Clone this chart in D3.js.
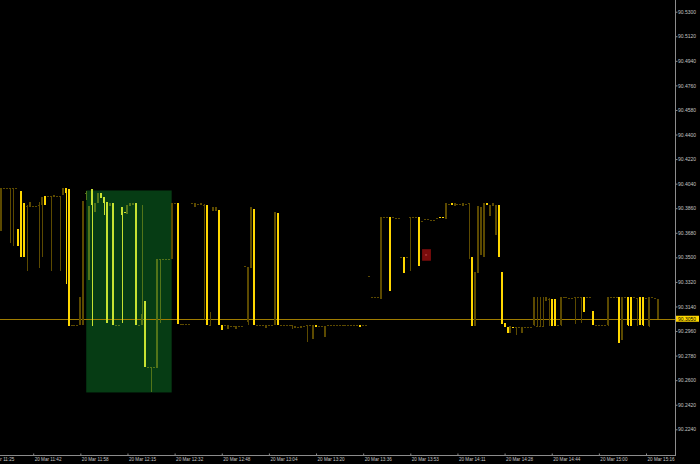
<!DOCTYPE html>
<html>
<head>
<meta charset="utf-8">
<script src="https://cdn.jsdelivr.net/npm/d3@7"></script>
<style>
  html, body { margin: 0; padding: 0; background: #000; }
  svg { display: block; }
</style>
</head>
<body>
<div id="chart"></div>
<script>
// M1 bars, one row of ten per line
const barOpen = [
  90.4008, 90.4008, 90.4008, 90.4008, 90.4008, 90.4008, 90.3583, 90.3503, 90.3503, 90.3876,
  90.3906, 90.3876, 90.3876, 90.3884, 90.3942, 90.3884, 90.3953, 90.3953, 90.3957, 90.3950,
  90.3953, 90.4008, 90.3972, 90.2999, 90.3004, 90.3004, 90.3004, 90.3209, 90.3913, 90.3972,
  90.3876, 90.3884, 90.3898, 90.3972, 90.3935, 90.3898, 90.3021, 90.3898, 90.3004, 90.3004,
  90.3004, 90.3810, 90.3828, 90.3884, 90.3898, 90.3898, 90.3004, 90.3004, 90.3085, 90.2699,
  90.2700, 90.2700, 90.2700, 90.3488, 90.3486, 90.3486, 90.3486, 90.3486, 90.3898, 90.3898,
  90.3012, 90.3012, 90.3012, 90.3012, 90.3012, 90.3898, 90.3898, 90.3891, 90.3898, 90.3884,
  90.3004, 90.3004, 90.3869, 90.3869, 90.3004, 90.2968, 90.3004, 90.3004, 90.2997, 90.2997,
  90.2997, 90.2997, 90.2997, 90.3437, 90.3429, 90.3869, 90.3004, 90.3004, 90.3004, 90.3004,
  90.3004, 90.3004, 90.3004, 90.3834, 90.3004, 90.3004, 90.3004, 90.3004, 90.3004, 90.3004,
  90.2997, 90.2993, 90.2997, 90.2997, 90.3004, 90.3004, 90.3004, 90.2990, 90.2997, 90.2997,
  90.2997, 90.3004, 90.3004, 90.3004, 90.3004, 90.3004, 90.3004, 90.3004, 90.3004, 90.3004,
  90.3004, 90.3004, 90.2990, 90.3004, 90.3004, 90.3363, 90.3207, 90.3207, 90.3207, 90.3798,
  90.3798, 90.3798, 90.3253, 90.3792, 90.3788, 90.3788, 90.3505, 90.3391, 90.3503, 90.3796,
  90.3796, 90.3796, 90.3439, 90.3766, 90.3781, 90.3781, 90.3774, 90.3774, 90.3788, 90.3788,
  90.3788, 90.3896, 90.3891, 90.3884, 90.3898, 90.3891, 90.3891, 90.3898, 90.3891, 90.3898,
  90.2999, 90.3395, 90.3879, 90.3871, 90.3898, 90.3884, 90.3884, 90.3898, 90.3884, 90.3500,
  90.3012, 90.2992, 90.2951, 90.2999, 90.2986, 90.2990, 90.2993, 90.2992, 90.2993, 90.2993,
  90.2993, 90.3207, 90.2997, 90.2997, 90.2997, 90.3209, 90.3195, 90.2999, 90.2999, 90.3001,
  90.3207, 90.3206, 90.3206, 90.3202, 90.3202, 90.3206, 90.3206, 90.3206, 90.3100, 90.3206,
  90.3206, 90.3004, 90.3004, 90.3004, 90.3004, 90.3001, 90.3207, 90.3207, 90.3207, 90.3207,
  90.2870, 90.3207, 90.3206, 90.2999, 90.2999, 90.3206, 90.3202, 90.3004, 90.2999, 90.3202,
  90.3207, 90.3206, 90.3202, 90.3195
]
const barHigh = [
  90.4008, 90.4008, 90.4008, 90.4008, 90.4008, 90.4008, 90.3708, 90.3986, 90.3898, 90.3884,
  90.3906, 90.3876, 90.3876, 90.3906, 90.3942, 90.3950, 90.3953, 90.3953, 90.3957, 90.3950,
  90.3953, 90.4008, 90.4008, 90.4001, 90.3004, 90.3004, 90.3004, 90.3209, 90.3913, 90.3986,
  90.3876, 90.4001, 90.3898, 90.3972, 90.3972, 90.3942, 90.3906, 90.3898, 90.3898, 90.3004,
  90.3004, 90.3869, 90.3832, 90.3884, 90.3898, 90.3898, 90.3898, 90.3004, 90.3884, 90.3182,
  90.2700, 90.2700, 90.2700, 90.3488, 90.3486, 90.3486, 90.3486, 90.3486, 90.3898, 90.3898,
  90.3898, 90.3012, 90.3012, 90.3012, 90.3012, 90.3898, 90.3898, 90.3891, 90.3898, 90.3891,
  90.3886, 90.3102, 90.3869, 90.3869, 90.3847, 90.3004, 90.3004, 90.3004, 90.2997, 90.2997,
  90.2997, 90.2997, 90.2997, 90.3437, 90.3429, 90.3869, 90.3854, 90.3004, 90.3004, 90.3004,
  90.3004, 90.3004, 90.3004, 90.3834, 90.3827, 90.3004, 90.3004, 90.3004, 90.3004, 90.3004,
  90.2997, 90.2993, 90.2997, 90.2997, 90.3004, 90.3004, 90.3004, 90.3004, 90.2997, 90.2997,
  90.2997, 90.3004, 90.3004, 90.3004, 90.3004, 90.3004, 90.3004, 90.3004, 90.3004, 90.3004,
  90.3004, 90.3004, 90.3004, 90.3004, 90.3004, 90.3363, 90.3207, 90.3207, 90.3207, 90.3798,
  90.3798, 90.3798, 90.3798, 90.3792, 90.3788, 90.3788, 90.3505, 90.3505, 90.3503, 90.3796,
  90.3796, 90.3796, 90.3796, 90.3766, 90.3781, 90.3781, 90.3774, 90.3774, 90.3788, 90.3796,
  90.3796, 90.3896, 90.3891, 90.3898, 90.3898, 90.3891, 90.3891, 90.3898, 90.3891, 90.3898,
  90.3505, 90.3395, 90.3879, 90.3871, 90.3898, 90.3898, 90.3884, 90.3898, 90.3884, 90.3884,
  90.3393, 90.3021, 90.2992, 90.2999, 90.2993, 90.2990, 90.2993, 90.2992, 90.2993, 90.2993,
  90.2993, 90.3207, 90.3207, 90.3207, 90.3207, 90.3209, 90.3200, 90.3195, 90.3195, 90.3001,
  90.3207, 90.3206, 90.3206, 90.3202, 90.3202, 90.3206, 90.3206, 90.3206, 90.3207, 90.3206,
  90.3206, 90.3107, 90.3004, 90.3004, 90.3004, 90.3001, 90.3207, 90.3207, 90.3207, 90.3207,
  90.3207, 90.3207, 90.3206, 90.3207, 90.3209, 90.3206, 90.3202, 90.3207, 90.3207, 90.3202,
  90.3207, 90.3206, 90.3202, 90.3195
]
const barLow = [
  90.3695, 90.4008, 90.4008, 90.3605, 90.3586, 90.4008, 90.3583, 90.3503, 90.3503, 90.3402,
  90.3869, 90.3876, 90.3876, 90.3422, 90.3503, 90.3884, 90.3953, 90.3402, 90.3942, 90.3950,
  90.3402, 90.3957, 90.3305, 90.2999, 90.3004, 90.3004, 90.3004, 90.3004, 90.3004, 90.3920,
  90.3334, 90.2999, 90.3832, 90.3898, 90.3935, 90.3810, 90.3021, 90.3876, 90.3004, 90.3004,
  90.3004, 90.3019, 90.3828, 90.3818, 90.3876, 90.3884, 90.3004, 90.3004, 90.3004, 90.2699,
  90.2700, 90.2516, 90.2700, 90.2691, 90.3019, 90.3486, 90.3486, 90.3486, 90.3488, 90.3898,
  90.3012, 90.3012, 90.3012, 90.3012, 90.3012, 90.3898, 90.3869, 90.3891, 90.3884, 90.3041,
  90.3004, 90.2999, 90.3842, 90.3842, 90.3004, 90.2968, 90.3004, 90.2975, 90.2997, 90.2997,
  90.2975, 90.2997, 90.2997, 90.3437, 90.3004, 90.3422, 90.3004, 90.3004, 90.3004, 90.3004,
  90.2982, 90.3004, 90.3004, 90.3004, 90.3004, 90.3004, 90.3004, 90.3004, 90.3004, 90.2975,
  90.2982, 90.2993, 90.2982, 90.2997, 90.2882, 90.3004, 90.2902, 90.2990, 90.2997, 90.2997,
  90.2919, 90.3004, 90.3004, 90.3004, 90.3004, 90.3004, 90.3004, 90.3004, 90.3004, 90.3004,
  90.3004, 90.3004, 90.2990, 90.3004, 90.3004, 90.3363, 90.3207, 90.3207, 90.3207, 90.3200,
  90.3798, 90.3798, 90.3253, 90.3792, 90.3788, 90.3788, 90.3505, 90.3391, 90.3503, 90.3402,
  90.3796, 90.3796, 90.3439, 90.3766, 90.3781, 90.3781, 90.3774, 90.3774, 90.3788, 90.3788,
  90.3788, 90.3781, 90.3891, 90.3884, 90.3876, 90.3891, 90.3891, 90.3876, 90.3891, 90.3488,
  90.2999, 90.2999, 90.3391, 90.3517, 90.3500, 90.3884, 90.3803, 90.3876, 90.3664, 90.3500,
  90.3012, 90.2992, 90.2951, 90.2951, 90.2986, 90.2931, 90.2993, 90.2951, 90.2993, 90.2993,
  90.2993, 90.2999, 90.2997, 90.2997, 90.2997, 90.3182, 90.2999, 90.2999, 90.2999, 90.3001,
  90.2999, 90.3206, 90.3206, 90.3202, 90.3202, 90.3012, 90.3206, 90.3021, 90.3100, 90.3206,
  90.3206, 90.3004, 90.3004, 90.3004, 90.3004, 90.3001, 90.2999, 90.3207, 90.3207, 90.3207,
  90.2870, 90.2894, 90.3206, 90.2999, 90.2999, 90.3206, 90.2999, 90.3004, 90.2999, 90.3202,
  90.2992, 90.3206, 90.3202, 90.3050
]
const barClose = [
  90.3695, 90.4008, 90.4008, 90.4008, 90.4008, 90.4008, 90.3708, 90.3986, 90.3898, 90.3876,
  90.3869, 90.3876, 90.3876, 90.3884, 90.3884, 90.3950, 90.3953, 90.3953, 90.3942, 90.3950,
  90.3953, 90.3957, 90.4008, 90.4001, 90.3004, 90.3004, 90.3004, 90.3004, 90.3004, 90.3972,
  90.3334, 90.4001, 90.3832, 90.3898, 90.3972, 90.3942, 90.3906, 90.3876, 90.3898, 90.3004,
  90.3004, 90.3869, 90.3832, 90.3818, 90.3876, 90.3884, 90.3898, 90.3004, 90.3004, 90.3182,
  90.2700, 90.2700, 90.2700, 90.2691, 90.3486, 90.3486, 90.3486, 90.3486, 90.3488, 90.3898,
  90.3898, 90.3012, 90.3012, 90.3012, 90.3012, 90.3898, 90.3869, 90.3891, 90.3884, 90.3884,
  90.3886, 90.3004, 90.3842, 90.3842, 90.3847, 90.3004, 90.3004, 90.2975, 90.2997, 90.2997,
  90.2975, 90.2997, 90.2997, 90.3437, 90.3029, 90.3422, 90.3854, 90.3004, 90.3004, 90.3004,
  90.2982, 90.3004, 90.3004, 90.3004, 90.3827, 90.3004, 90.3004, 90.3004, 90.3004, 90.3004,
  90.2982, 90.2993, 90.2982, 90.2997, 90.3004, 90.3004, 90.2902, 90.3004, 90.2997, 90.2997,
  90.2919, 90.3004, 90.3004, 90.3004, 90.3004, 90.3004, 90.3004, 90.3004, 90.3004, 90.3004,
  90.3004, 90.3004, 90.3004, 90.3004, 90.3004, 90.3363, 90.3207, 90.3207, 90.3207, 90.3200,
  90.3798, 90.3798, 90.3798, 90.3792, 90.3788, 90.3788, 90.3505, 90.3505, 90.3503, 90.3796,
  90.3796, 90.3796, 90.3796, 90.3766, 90.3781, 90.3781, 90.3774, 90.3774, 90.3788, 90.3796,
  90.3796, 90.3781, 90.3891, 90.3898, 90.3876, 90.3891, 90.3891, 90.3876, 90.3891, 90.3898,
  90.3505, 90.2999, 90.3391, 90.3517, 90.3500, 90.3898, 90.3803, 90.3876, 90.3664, 90.3884,
  90.3393, 90.3021, 90.2992, 90.2951, 90.2993, 90.2990, 90.2993, 90.2951, 90.2993, 90.2993,
  90.2993, 90.2999, 90.2997, 90.2997, 90.2997, 90.3182, 90.3195, 90.3195, 90.3195, 90.3001,
  90.2999, 90.3206, 90.3206, 90.3202, 90.3202, 90.3206, 90.3206, 90.3206, 90.3207, 90.3206,
  90.3206, 90.3107, 90.3004, 90.3004, 90.3004, 90.3001, 90.2999, 90.3207, 90.3207, 90.3207,
  90.3207, 90.2894, 90.3206, 90.3207, 90.3209, 90.3206, 90.3202, 90.3207, 90.3207, 90.3202,
  90.2992, 90.3206, 90.3202, 90.3050
]

// axis labels
const priceTicks = [90.2240, 90.2420, 90.2600, 90.2780, 90.2960, 90.3140, 90.3320, 90.3500, 90.3680,
  90.3860, 90.4040, 90.4220, 90.4400, 90.4580, 90.4760, 90.4940, 90.5120, 90.5300]
const timeLabels = ["20 Mar 11:25", "20 Mar 11:42", "20 Mar 11:58", "20 Mar 12:15", "20 Mar 12:32",
  "20 Mar 12:48", "20 Mar 13:04", "20 Mar 13:20", "20 Mar 13:36", "20 Mar 13:53", "20 Mar 14:11",
  "20 Mar 14:28", "20 Mar 14:44", "20 Mar 15:00", "20 Mar 15:16"]
const timeLabelBars = [-5, 11, 27, 43, 59, 75, 91, 107, 123, 139, 155, 171, 187, 203, 219]

// chart objects
const bidPrice = 90.3050
const zoneBars = [29, 58]
const zonePrices = [90.3990, 90.2510]
const markerBars = [143, 146]
const markerPrices = [90.3560, 90.3475]

const width = 700
const height = 464
const plotRight = 675
const plotBottom = 455
const font = "'Liberation Sans', Arial, sans-serif"

const x = d3.scaleLinear().domain([0, 219]).range([0.8, 646])
const y = d3.scaleLinear().domain([90.2240, 90.5300]).range([429.3, 11.7])

const svg = d3.select("#chart")
  .append("svg")
  .attr("width", width)
  .attr("height", height)
  .style("background", "#000")

const plot = svg.append("g")

// green box
plot.append("rect")
  .attr("x", x(zoneBars[0]))
  .attr("y", y(zonePrices[0]))
  .attr("width", x(zoneBars[1]) - x(zoneBars[0]))
  .attr("height", y(zonePrices[1]) - y(zonePrices[0]))
  .attr("fill", "#063c14")

// bid line
plot.append("line")
  .attr("x1", 0)
  .attr("x2", plotRight)
  .attr("y1", Math.round(y(bidPrice)) + 0.5)
  .attr("y2", Math.round(y(bidPrice)) + 0.5)
  .attr("stroke", "#a07c00")
  .attr("stroke-width", 1)

const bars = barOpen.map((o, i) => ({
  i, o, h: barHigh[i], l: barLow[i], c: barClose[i]
}))
const inZone = d => d.i > zoneBars[0] - 0.5 && d.i < zoneBars[1] - 0.5
const barColor = d => {
  const up = d.c > d.o
  if (inZone(d)) return up ? "#c6e232" : "#527419"
  return up ? "#ffd700" : "#5c4a00"
}

const candle = plot.append("g")
  .selectAll("g")
  .data(bars)
  .enter()
  .append("g")

candle.append("rect")
  .attr("x", d => Math.round(x(d.i)))
  .attr("y", d => Math.round(y(d.h)))
  .attr("width", 1)
  .attr("height", d => Math.max(1, Math.round(y(d.l)) - Math.round(y(d.h))))
  .attr("fill", barColor)

candle.append("rect")
  .attr("x", d => Math.round(x(d.i)) - 1)
  .attr("y", d => Math.round(Math.min(y(d.o), y(d.c))))
  .attr("width", 2)
  .attr("height", d => Math.max(1, Math.round(Math.abs(y(d.o) - y(d.c)))))
  .attr("fill", barColor)

// little red marker
plot.append("rect")
  .attr("x", x(markerBars[0]))
  .attr("y", y(markerPrices[0]))
  .attr("width", x(markerBars[1]) - x(markerBars[0]))
  .attr("height", y(markerPrices[1]) - y(markerPrices[0]))
  .attr("fill", "#7a0c0c")
plot.append("rect")
  .attr("x", x(markerBars[0]) + 3)
  .attr("y", (y(markerPrices[0]) + y(markerPrices[1])) / 2 - 0.5)
  .attr("width", 2)
  .attr("height", 1)
  .attr("fill", "#c05050")

// axes
svg.append("line")
  .attr("x1", plotRight + 0.5).attr("x2", plotRight + 0.5)
  .attr("y1", 0).attr("y2", plotBottom + 1)
  .attr("stroke", "#8c8c8c")
svg.append("line")
  .attr("x1", 0).attr("x2", plotRight + 1)
  .attr("y1", plotBottom + 0.5).attr("y2", plotBottom + 0.5)
  .attr("stroke", "#8c8c8c")

const yAxis = svg.append("g")
  .attr("transform", `translate(${plotRight + 0.5},0)`)
  .call(d3.axisRight(y).tickValues(priceTicks).tickSize(2).tickFormat(d3.format(".4f")))
yAxis.select(".domain").remove()
yAxis.selectAll("line").attr("stroke", "#8c8c8c")
yAxis.selectAll("text")
  .attr("x", 2.5)
  .attr("fill", "#c4c4c4")
  .style("font-family", font)
  .style("font-size", "5px")

const xAxis = svg.append("g")
  .attr("transform", `translate(0,${plotBottom + 0.5})`)
  .call(d3.axisBottom(x).tickValues(timeLabelBars).tickSize(-2).tickFormat((d, i) => timeLabels[i]))
xAxis.select(".domain").remove()
xAxis.selectAll("line").attr("stroke", "#8c8c8c")
xAxis.selectAll("text")
  .attr("y", 2.5)
  .attr("dx", 1)
  .attr("text-anchor", "start")
  .attr("fill", "#c4c4c4")
  .style("font-family", font)
  .style("font-size", "4.6px")

// bid price label
svg.append("rect")
  .attr("x", plotRight + 1)
  .attr("y", y(bidPrice) - 3)
  .attr("width", 23)
  .attr("height", 6)
  .attr("fill", "#ffd700")
svg.append("text")
  .attr("x", plotRight + 3)
  .attr("y", y(bidPrice))
  .attr("dy", "0.35em")
  .attr("fill", "#000")
  .style("font-family", font)
  .style("font-size", "5px")
  .text(d3.format(".4f")(bidPrice))
</script>
</body>
</html>
